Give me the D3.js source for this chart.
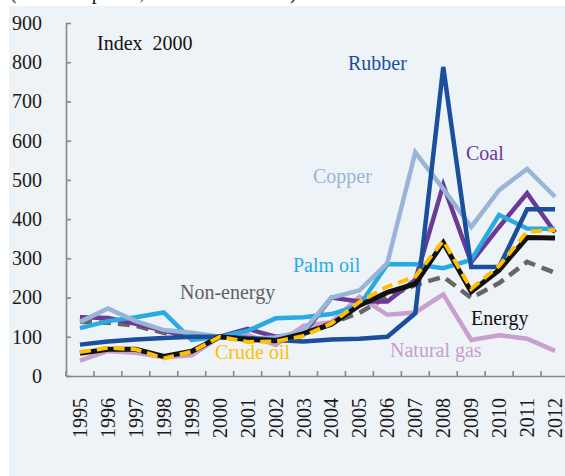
<!DOCTYPE html>
<html>
<head>
<meta charset="utf-8">
<script src="https://cdn.jsdelivr.net/npm/d3@7"></script>
<style>
  body { margin: 0; background: #fff; }
  #graf { width: 565px; height: 476px; }
  text { font-family: 'Liberation Serif', 'DejaVu Serif', serif; }
</style>
</head>
<body>
<div id="graf"></div>
<script>
// I. Datos
years = ['1995','1996','1997','1998','1999','2000','2001','2002','2003',
         '2004','2005','2006','2007','2008','2009','2010','2011','2012']
yTicks = [0, 100, 200, 300, 400, 500, 600, 700, 800, 900]

naturalGas = [39, 64, 59, 48, 53, 100, 105, 79, 128, 137, 202, 156, 162, 208, 92, 104, 95, 64]
nonEnergy  = [138, 136, 128, 110, 100, 100, 93, 97, 110, 135, 161, 202, 232, 253, 199, 237, 291, 263]
coal       = [150, 148, 133, 115, 100, 100, 120, 100, 108, 200, 190, 190, 245, 487, 290, 380, 466, 366]
palmOil    = [122, 140, 150, 162, 92, 100, 115, 147, 150, 158, 180, 285, 285, 275, 296, 411, 376, 375]
copper     = [138, 172, 140, 117, 110, 100, 95, 98, 115, 200, 218, 288, 570, 477, 380, 474, 528, 457]
rubber     = [80, 88, 93, 97, 100, 100, 97, 92, 88, 93, 95, 100, 160, 788, 278, 278, 425, 425]
energy     = [58, 68, 68, 50, 63, 100, 93, 90, 108, 132, 180, 213, 235, 340, 215, 270, 353, 352]
crudeOil   = [61, 72, 68, 45, 62, 100, 87, 88, 102, 134, 189, 228, 253, 345, 222, 281, 368, 372]

series = [
  { name: 'Natural gas', values: naturalGas, color: '#c89fcd', width: 4.5, dash: null },
  { name: 'Non-energy',  values: nonEnergy,  color: '#666666', width: 4.5, dash: '12,7' },
  { name: 'Coal',        values: coal,       color: '#6b3a96', width: 4.5, dash: null },
  { name: 'Palm oil',    values: palmOil,    color: '#29abe2', width: 4.5, dash: null },
  { name: 'Copper',      values: copper,     color: '#98b5d8', width: 4.5, dash: null },
  { name: 'Rubber',      values: rubber,     color: '#1b4f9c', width: 4.5, dash: null },
  { name: 'Energy',      values: energy,     color: '#111111', width: 5,   dash: null },
  { name: 'Crude oil',   values: crudeOil,   color: '#ffc000', width: 4,   dash: '11,6' }
]

etiquetas = [
  { text: 'Index  2000', x: 97,  y: 50,  color: '#111111' },
  { text: 'Rubber',      x: 348, y: 70,  color: '#1b4f9c' },
  { text: 'Coal',        x: 466, y: 160, color: '#6b3a96' },
  { text: 'Copper',      x: 313, y: 183, color: '#98b5d8' },
  { text: 'Palm oil',    x: 293, y: 272, color: '#29abe2' },
  { text: 'Non-energy',  x: 180, y: 299, color: '#606060' },
  { text: 'Energy',      x: 471, y: 325, color: '#111111' },
  { text: 'Crude oil',   x: 215, y: 359, color: '#ffc000' },
  { text: 'Natural gas', x: 390, y: 357, color: '#c89fcd' }
]

// II. Configuración
ancho_total = 565
alto_total = 476
margins = { top: 23, left: 66, right: -4, bottom: 100 }
ancho = ancho_total - margins.left - margins.right
alto  = alto_total - margins.top - margins.bottom

svg = d3.select('#graf').append('svg')
        .attr('width', ancho_total)
        .attr('height', alto_total)

// fondo del panel
svg.append('rect')
   .attr('x', 9).attr('y', 6)
   .attr('width', ancho_total - 9).attr('height', alto_total - 6)
   .attr('fill', '#eef3f8')

// título recortado arriba (solo se ven los descendentes)
svg.append('text')
   .attr('x', 10).attr('y', -1)
   .style('font-size', '20px')
   .style('fill', '#111')
   .text('(Nominal prices, index 2000 = 100)')

g = svg.append('g')
       .attr('transform', `translate(${ margins.left }, ${ margins.top })`)

x = d3.scaleBand()
      .domain(years)
      .range([0, ancho])
y = d3.scaleLinear()
      .domain([0, 900])
      .range([alto, 0])

// III. Ejes
yAxisCall = d3.axisLeft(y)
              .tickValues(yTicks)
              .tickSizeInner(-5)
              .tickSizeOuter(0)
              .tickPadding(24)
yAxisGroup = g.append('g').call(yAxisCall)

xAxisCall = d3.axisBottom(x)
              .tickSizeInner(-5)
              .tickSizeOuter(0)
xAxisGroup = g.append('g')
              .attr('transform', `translate(0, ${ alto })`)
              .call(xAxisCall)

xAxisGroup.selectAll('.tick line')
          .attr('x1', -x.step() / 2)
          .attr('x2', -x.step() / 2)
xAxisGroup.selectAll('.tick text')
          .attr('transform', 'rotate(-90)')
          .attr('text-anchor', 'end')
          .attr('x', -22)
          .attr('y', 0)
          .attr('dy', '0.35em')

svg.selectAll('.domain, .tick line')
   .attr('stroke', '#888')
   .attr('stroke-width', 1.6)
svg.selectAll('.tick text')
   .style('font-size', '20px')
   .style('font-family', "'Liberation Serif', serif")
   .attr('fill', '#1a1a1a')

// IV. Líneas
linea = d3.line()
          .x((d, i) => x(years[i]) + x.bandwidth() / 2)
          .y(d => y(d))

g.selectAll('path.serie')
 .data(series)
 .enter()
 .append('path')
   .attr('class', 'serie')
   .attr('d', d => linea(d.values))
   .attr('fill', 'none')
   .attr('stroke', d => d.color)
   .attr('stroke-width', d => d.width)
   .attr('stroke-dasharray', d => d.dash)
   .attr('stroke-linejoin', 'miter')

// V. Etiquetas
svg.selectAll('text.etiqueta')
   .data(etiquetas)
   .enter()
   .append('text')
     .attr('class', 'etiqueta')
     .attr('x', d => d.x)
     .attr('y', d => d.y)
     .style('font-size', '20px')
     .style('white-space', 'pre')
     .style('fill', d => d.color)
     .text(d => d.text)
</script>
</body>
</html>
